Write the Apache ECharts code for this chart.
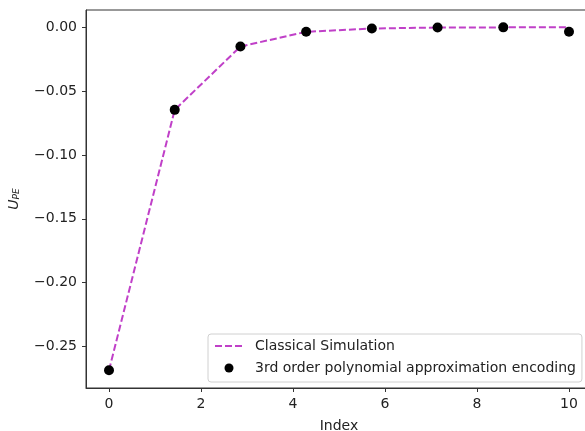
<!DOCTYPE html>
<html>
<head>
<meta charset="utf-8">
<script src="https://cdn.jsdelivr.net/npm/echarts@6/dist/echarts.min.js"></script>
<style>html,body{margin:0;padding:0;background:#fff;}#c{width:585px;height:431px;}</style>
</head>
<body>
<div id="c"></div>
<script>
const xValues = [0, 1.4286, 2.8571, 4.2857, 5.7143, 7.1429, 8.5714, 10];
const classicalValues = [-0.2686, -0.0647, -0.0151, -0.0036, -0.0010, -0.0002, -0.0001, 0.0000];
const polyValues = [-0.2686, -0.0647, -0.0151, -0.0036, -0.0010, -0.0002, -0.0001, -0.0036];
const xTicks = [0, 2, 4, 6, 8, 10];
const yTicks = [-0.25, -0.20, -0.15, -0.10, -0.05, 0.00];
const seriesNames = ['Classical Simulation', '3rd order polynomial approximation encoding'];

const FONT = 'DejaVu Sans';
const FS = 14;
const chart = echarts.init(document.getElementById('c'), null, {renderer: 'canvas'});
const fmtY = v => (v < 0 ? '\u2212' : '') + Math.abs(v).toFixed(2);

chart.setOption({
  animation: false,
  backgroundColor: '#fff',
  grid: {left: 86, top: 10, right: -7, bottom: 43, show: true, borderColor: '#333', borderWidth: 1,
         containLabel: false, outerBoundsMode: 'none'},
  xAxis: {
    type: 'value', min: -0.5, max: 10.5,
    name: 'Index', nameLocation: 'middle', nameGap: 31,
    nameTextStyle: {fontFamily: FONT, fontSize: FS, color: '#222'},
    axisLine: {show: true, onZero: false, lineStyle: {color: '#333', width: 1}},
    axisTick: {show: true, inside: false, length: 4, lineStyle: {color: '#333'}, customValues: xTicks},
    axisLabel: {fontFamily: FONT, fontSize: FS, color: '#222', margin: 9, customValues: xTicks, formatter: v => String(v)},
    splitLine: {show: false}
  },
  yAxis: {
    type: 'value', min: -0.2825, max: 0.0135,
    name: '{u|U}{s|PE}', nameLocation: 'middle', nameGap: 65, nameRotate: 90,
    nameTextStyle: {
      fontFamily: FONT, color: '#222',
      rich: {
        u: {fontFamily: FONT, fontStyle: 'italic', fontSize: FS, color: '#222', lineHeight: 16, verticalAlign: 'bottom'},
        s: {fontFamily: FONT, fontStyle: 'italic', fontSize: 9, color: '#222', lineHeight: 16, verticalAlign: 'bottom', padding: [5, 0, 0, 0]}
      }
    },
    axisLine: {show: true, onZero: false, lineStyle: {color: '#333', width: 1}},
    axisTick: {show: true, inside: false, length: 4, lineStyle: {color: '#333'}, customValues: yTicks},
    axisLabel: {fontFamily: FONT, fontSize: FS, color: '#222', margin: 9, customValues: yTicks, formatter: fmtY},
    splitLine: {show: false}
  },
  legend: {
    show: true, orient: 'vertical', left: 208, top: 334,
    padding: [5, 6, 7, 6], itemGap: 8, itemWidth: 28, itemHeight: 9,
    backgroundColor: 'rgba(255,255,255,0.8)', borderColor: '#d0d0d0', borderWidth: 1, borderRadius: 3,
    textStyle: {fontFamily: FONT, fontSize: FS, color: '#222', padding: [0, 0, 0, 7]},
    data: [
      {name: seriesNames[0], itemStyle: {opacity: 0}},
      {name: seriesNames[1], icon: 'circle', itemStyle: {color: '#000', opacity: 1}}
    ]
  },
  series: [
    {
      name: seriesNames[0], type: 'line', symbol: 'none',
      data: xValues.map((x, i) => [x, classicalValues[i]]),
      lineStyle: {color: '#c040c8', width: 2, type: [7, 3]},
      itemStyle: {color: '#c040c8'}, z: 2
    },
    {
      name: seriesNames[1], type: 'scatter', symbol: 'circle', symbolSize: 10,
      data: xValues.map((x, i) => [x, polyValues[i]]),
      itemStyle: {color: '#000', opacity: 1}, z: 3
    }
  ]
});
</script>
</body>
</html>
